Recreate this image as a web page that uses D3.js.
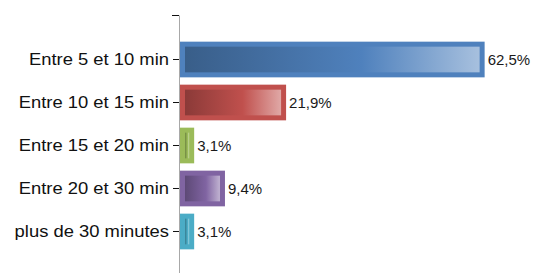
<!DOCTYPE html>
<html><head><meta charset="utf-8">
<script src="https://cdn.jsdelivr.net/npm/d3@7"></script>
<style>
html,body{margin:0;padding:0;background:#fff;}
svg{display:block;}
</style></head>
<body>
<svg id="chart" width="539" height="273"></svg>
<script>
const categories = ["Entre 5 et 10 min","Entre 10 et 15 min","Entre 15 et 20 min","Entre 20 et 30 min","plus de 30 minutes"];
const values = [62.5, 21.9, 3.1, 9.4, 3.1];
const valueLabels = ["62,5%","21,9%","3,1%","9,4%","3,1%"];
const colors = ["#4f81bd","#c0504d","#9bbb59","#8064a2","#4bacc6"];

const svg = d3.select("#chart");
const x = d3.scaleLinear().domain([0,100]).range([179,668]);
const y = d3.scaleBand().domain(categories).range([15,276]).paddingInner(0.17).paddingOuter(0.62);

const defs = svg.append("defs");
categories.forEach((c,i)=>{
  const base = d3.color(colors[i]);
  const g = defs.append("linearGradient").attr("id","g"+i).attr("x1","0").attr("x2","1").attr("y1","0").attr("y2","0");
  g.append("stop").attr("offset","0").attr("stop-color", base.darker(0.9));
  g.append("stop").attr("offset","0.6").attr("stop-color", base);
  g.append("stop").attr("offset","1").attr("stop-color", d3.interpolateRgb(base,"#fff")(0.5));
});

const bars = svg.append("g").selectAll("g").data(categories).join("g");
bars.append("rect")
  .attr("x", x(0)+1).attr("y", d=>y(d))
  .attr("width", (d,i)=>x(values[i])-x(0)-1).attr("height", y.bandwidth())
  .attr("fill",(d,i)=>colors[i]);
const inset = 5;
bars.append("rect")
  .attr("x", x(0)+1+inset).attr("y", d=>y(d)+inset)
  .attr("width", (d,i)=>Math.max(1, x(values[i])-x(0)-1-2*inset)).attr("height", y.bandwidth()-2*inset)
  .attr("fill",(d,i)=>`url(#g${i})`);

svg.append("g").selectAll("text").data(categories).join("text")
  .attr("x",(d,i)=>x(values[i])+3).attr("y",d=>y(d)+y.bandwidth()/2)
  .attr("dy","0.35em")
  .attr("font-family","'Liberation Sans', Arial, sans-serif").attr("font-size","15px").attr("fill","#1a1a1a")
  .text((d,i)=>valueLabels[i]);

const ax = svg.append("g").attr("transform",`translate(${x(0)},0)`)
  .call(d3.axisLeft(y).tickSize(6).tickSizeOuter(0).tickPadding(4));
ax.select(".domain").attr("stroke","#a8a8a8");
ax.append("line").attr("x1",-7).attr("x2",0).attr("y1",y.range()[0]+0.5).attr("y2",y.range()[0]+0.5).attr("stroke","#111");
ax.selectAll(".tick line").attr("stroke","#111");
ax.selectAll(".tick text")
  .attr("font-family","'Liberation Sans', Arial, sans-serif").attr("font-size","16px").attr("fill","#111")
  .each(function(){
    const t = d3.select(this);
    const tx = +t.attr("x");
    t.attr("x",0).attr("transform",`translate(${tx},0) scale(1.15,1)`);
  });
</script>
</body></html>
